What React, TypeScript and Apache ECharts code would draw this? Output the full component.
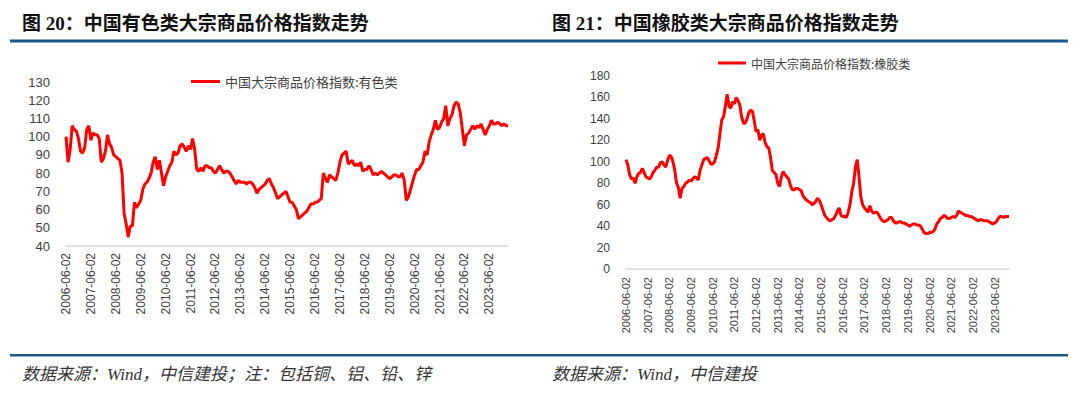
import React, { useEffect, useRef } from "react";
import * as echarts from "echarts";

// ---- Data (monthly, starting 2006-06) ----
const START_YEAR = 2006;
const START_MONTH = 6;

const titleLeft = "图 20：中国有色类大宗商品价格指数走势";
const titleRight = "图 21：中国橡胶类大宗商品价格指数走势";
const sourceLeft = "数据来源：Wind，中信建投；注：包括铜、铝、铅、锌";
const sourceRight = "数据来源：Wind，中信建投";
const seriesNameMetal = "中国大宗商品价格指数:有色类";
const seriesNameRubber = "中国大宗商品价格指数:橡胶类";

const metalValues = [
  100, 86, 93, 106, 104, 103, 99, 92, 91, 94, 104, 106,
  98, 102, 101, 101, 99, 86, 88, 92, 101, 96, 94, 90,
  89, 88, 87, 80, 58, 52, 45, 51, 51, 64, 61, 63,
  65, 71, 74, 75, 77, 80, 86, 89, 82, 87, 80, 73,
  78, 81, 84, 86, 92, 90, 91, 95, 96, 94, 92, 95,
  93, 99, 93, 82, 81, 83, 81, 84, 84, 83, 83, 81,
  80, 82, 84, 82, 80, 81, 81, 80, 78, 76, 74, 76,
  75, 75, 75, 74, 75, 75, 74, 72, 69, 71, 72, 73,
  74, 76, 77, 74, 72, 69, 66, 67, 68, 69, 70, 67,
  64, 64, 62, 60, 55, 56, 57, 58, 59, 61, 63, 63,
  64, 64, 65, 66, 80, 77, 75, 79, 78, 77, 76, 80,
  86, 90, 91, 92, 85, 86, 87, 84, 85, 84, 86, 81,
  82, 82, 84, 82, 79, 80, 79, 80, 81, 80, 79, 78,
  77, 78, 79, 79, 78, 78, 80, 76, 65, 67, 71, 75,
  79, 82, 82, 84, 86, 92, 90, 97, 101, 104, 109, 104,
  105, 108, 110, 117, 106, 110, 112, 117, 119, 118, 113, 104,
  95, 101, 102, 104, 106, 104, 106, 105, 107, 104, 101, 104,
  106, 109, 107, 107, 108, 107, 106, 107, 106, 106,
];

const rubberValues = [
  102, 97, 88, 84, 85, 80, 86, 89, 90, 94, 90, 86,
  85, 84, 86, 90, 92, 95, 95, 99, 100, 97, 95, 101,
  106, 105, 100, 92, 80, 76, 66, 75, 77, 80, 81, 83,
  82, 84, 86, 85, 83, 92, 97, 102, 103, 104, 101, 98,
  98, 100, 106, 113, 126, 139, 142, 152, 163, 152, 150, 156,
  154, 160, 157, 153, 142, 136, 136, 140, 146, 148, 147, 138,
  128, 130, 120, 125, 126, 118, 114, 113, 104, 92, 90, 88,
  80, 77, 86, 91, 88, 86, 84, 78, 74, 74, 75, 75,
  74, 73, 68, 66, 64, 63, 62, 60, 61, 63, 66, 64,
  60, 55, 50, 48, 46, 45, 46, 47, 50, 54, 57, 50,
  49, 49, 48, 53, 60, 72, 80, 95, 102, 86, 67, 60,
  57, 55, 53, 59, 54, 52, 53, 53, 50, 47, 45, 44,
  45, 46, 48, 48, 45, 43, 43, 44, 44, 43, 43, 42,
  41, 40, 41, 42, 42, 41, 41, 40, 37, 34, 33, 33,
  34, 34, 35, 37, 42, 44, 47, 48, 50, 49, 47, 47,
  48, 49, 48, 50, 54, 53, 52, 51, 50, 50, 49, 49,
  48, 47, 46, 45, 46, 46, 45, 45, 45, 44, 43, 42,
  43, 44, 47, 49, 49, 48, 49, 49, 49,
];

function monthlyCategories(count: number): string[] {
  const out: string[] = [];
  for (let i = 0; i < count; i++) {
    const t = START_MONTH - 1 + i;
    const y = START_YEAR + Math.floor(t / 12);
    const m = (t % 12) + 1;
    out.push(`${y}-${String(m).padStart(2, "0")}-02`);
  }
  return out;
}

const metalDates = monthlyCategories(metalValues.length);
const rubberDates = monthlyCategories(rubberValues.length);

const SANS = '"Liberation Sans", Arial, "Noto Sans CJK SC", sans-serif';
const CJK = '"Noto Sans CJK SC", "Liberation Sans", sans-serif';
const SERIF = '"Liberation Serif", "Noto Sans CJK SC", serif';
const RULE = "#1A5A8C";
const TEXT = "#404040";

export default function App() {
  const ref = useRef<HTMLDivElement>(null);

  useEffect(() => {
    if (!ref.current) return;
    const chart = echarts.init(ref.current, undefined, { renderer: "svg" });

    const xAxisCommon = (fontSize: number, margin: number) => ({
      type: "category" as const,
      boundaryGap: false,
      axisLine: { lineStyle: { color: "#d9d9d9", width: 1.5 } },
      axisTick: { show: false },
      splitLine: { show: false },
      axisLabel: {
        interval: 11,
        rotate: 90,
        fontSize,
        color: TEXT,
        fontFamily: SANS,
        margin,
      },
    });

    chart.setOption({
      animation: false,
      backgroundColor: "#ffffff",
      grid: [
        { left: 66, right: 572, top: 82, bottom: 147 },
        { left: 626, right: 71, top: 76, bottom: 124 },
      ],
      xAxis: [
        { ...xAxisCommon(12, 7), gridIndex: 0, data: metalDates },
        { ...xAxisCommon(11, 8), gridIndex: 1, data: rubberDates },
      ],
      yAxis: [
        {
          type: "value",
          gridIndex: 0,
          min: 40,
          max: 130,
          interval: 10,
          axisLine: { show: false },
          axisTick: { show: false },
          splitLine: { show: false },
          axisLabel: { fontSize: 13, color: TEXT, fontFamily: SANS, margin: 16 },
        },
        {
          type: "value",
          gridIndex: 1,
          min: 0,
          max: 180,
          interval: 20,
          axisLine: { show: false },
          axisTick: { show: false },
          splitLine: { show: false },
          axisLabel: { fontSize: 12, color: TEXT, fontFamily: SANS, margin: 16 },
        },
      ],
      legend: [
        {
          data: [seriesNameMetal],
          left: 186,
          top: 70,
          icon: "rect",
          itemWidth: 29,
          itemHeight: 3,
          textStyle: { fontSize: 13, color: TEXT, fontFamily: CJK },
        },
        {
          data: [seriesNameRubber],
          left: 713,
          top: 52,
          icon: "rect",
          itemWidth: 28,
          itemHeight: 3,
          textStyle: { fontSize: 12, color: TEXT, fontFamily: CJK },
        },
      ],
      series: [
        {
          name: seriesNameMetal,
          type: "line",
          xAxisIndex: 0,
          yAxisIndex: 0,
          data: metalValues,
          showSymbol: false,
          symbol: "none",
          lineStyle: { color: "#FF0000", width: 3 },
          itemStyle: { color: "#FF0000" },
        },
        {
          name: seriesNameRubber,
          type: "line",
          xAxisIndex: 1,
          yAxisIndex: 1,
          data: rubberValues,
          showSymbol: false,
          symbol: "none",
          lineStyle: { color: "#FF0000", width: 3 },
          itemStyle: { color: "#FF0000" },
        },
      ],
      graphic: [
        {
          type: "text",
          x: 22,
          y: 23,
          style: {
            text: titleLeft,
            fontSize: 19,
            fontWeight: "bold",
            fontFamily: SERIF,
            fill: "#111111",
            verticalAlign: "middle",
          },
        },
        {
          type: "text",
          x: 552,
          y: 23,
          style: {
            text: titleRight,
            fontSize: 19,
            fontWeight: "bold",
            fontFamily: SERIF,
            fill: "#111111",
            verticalAlign: "middle",
          },
        },
        {
          type: "rect",
          shape: { x: 10, y: 39.5, width: 1058, height: 3 },
          style: { fill: RULE },
        },
        {
          type: "rect",
          shape: { x: 10, y: 354, width: 1058, height: 2.5 },
          style: { fill: RULE },
        },
        {
          type: "text",
          x: 22,
          y: 374,
          style: {
            text: sourceLeft,
            fontSize: 17,
            fontStyle: "italic",
            fontFamily: SERIF,
            fill: "#333333",
            verticalAlign: "middle",
          },
        },
        {
          type: "text",
          x: 552,
          y: 374,
          style: {
            text: sourceRight,
            fontSize: 17,
            fontStyle: "italic",
            fontFamily: SERIF,
            fill: "#333333",
            verticalAlign: "middle",
          },
        },
      ],
    });

    return () => chart.dispose();
  }, []);

  return (
    <div
      ref={ref}
      style={{
        position: "fixed",
        left: 0,
        top: 0,
        width: 1080,
        height: 393,
        background: "#ffffff",
      }}
    />
  );
}
